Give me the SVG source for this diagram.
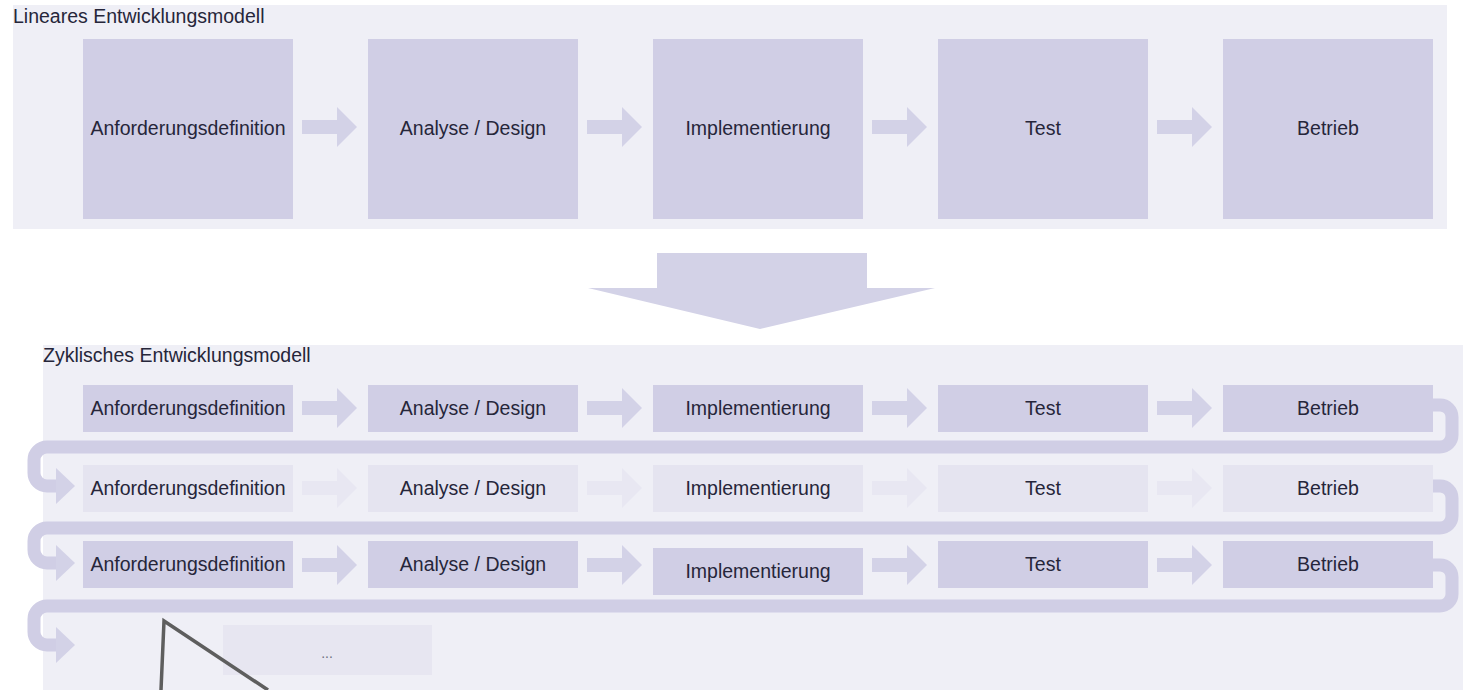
<svg xmlns="http://www.w3.org/2000/svg" width="1463" height="690" viewBox="0 0 1463 690">
<style>
text{font-family:"Liberation Sans",Arial,sans-serif;font-size:19.5px;fill:#26263a}
.t{text-anchor:middle;dominant-baseline:central}
.box{fill:#d0cee5}
.fbox{fill:#e5e4f0}
.arr{fill:#d3d2e7}
.farr{fill:#e8e7f2}
.loop{fill:none;stroke:#d0cee5;stroke-width:13}
.panel{fill:#efeff6}
</style>
<defs>
<polygon id="ar" points="0,-7 35,-7 35,-20 55,0 35,20 35,7 0,7"/>
</defs>
<rect width="1463" height="690" fill="#ffffff"/>
<rect class="panel" x="13" y="5" width="1434" height="224"/>
<rect class="panel" x="43" y="345" width="1420" height="345"/>
<text x="13" y="23">Lineares Entwicklungsmodell</text>
<text x="43" y="362">Zyklisches Entwicklungsmodell</text>

<g id="connectors">
<use href="#ar" class="arr" x="302" y="127"/>
<use href="#ar" class="arr" x="587" y="127"/>
<use href="#ar" class="arr" x="872" y="127"/>
<use href="#ar" class="arr" x="1157" y="127"/>
<polygon class="arr" points="657,253 867,253 867,288 935,288 760,329 588,288 657,288"/>
<use href="#ar" class="arr" x="302" y="408"/>
<use href="#ar" class="arr" x="587" y="408"/>
<use href="#ar" class="arr" x="872" y="408"/>
<use href="#ar" class="arr" x="1157" y="408"/>
<use href="#ar" class="farr" x="302" y="488"/>
<use href="#ar" class="farr" x="587" y="488"/>
<use href="#ar" class="farr" x="872" y="488"/>
<use href="#ar" class="farr" x="1157" y="488"/>
<use href="#ar" class="arr" x="302" y="565"/>
<use href="#ar" class="arr" x="587" y="565"/>
<use href="#ar" class="arr" x="872" y="565"/>
<use href="#ar" class="arr" x="1157" y="565"/>
<path class="loop" d="M1425,405 H1440 A12,12 0 0 1 1452,417 V435 A12,12 0 0 1 1440,447 H47 A13,13 0 0 0 34,460 V473 A13,13 0 0 0 47,486 H58"/>
<polygon class="arr" points="56,468 75,486 56,504"/>
<path class="loop" d="M1425,486 H1440 A12,12 0 0 1 1452,498 V516 A12,12 0 0 1 1440,528 H47 A13,13 0 0 0 34,541 V550 A13,13 0 0 0 47,563 H58"/>
<polygon class="arr" points="56,545 75,563 56,581"/>
<path class="loop" d="M1425,565 H1440 A12,12 0 0 1 1452,577 V594 A12,12 0 0 1 1440,606 H47 A13,13 0 0 0 34,619 V632 A13,13 0 0 0 47,645 H58"/>
<polygon class="arr" points="56,627 75,645 56,663"/>
</g>

<g id="lin-1"><rect class="box" x="83" y="39" width="210" height="180"/><text class="t" x="188" y="128">Anforderungsdefinition</text></g>
<g id="lin-2"><rect class="box" x="368" y="39" width="210" height="180"/><text class="t" x="473" y="128">Analyse / Design</text></g>
<g id="lin-3"><rect class="box" x="653" y="39" width="210" height="180"/><text class="t" x="758" y="128">Implementierung</text></g>
<g id="lin-4"><rect class="box" x="938" y="39" width="210" height="180"/><text class="t" x="1043" y="128">Test</text></g>
<g id="lin-5"><rect class="box" x="1223" y="39" width="210" height="180"/><text class="t" x="1328" y="128">Betrieb</text></g>

<g id="r1-1"><rect class="box" x="83" y="385" width="210" height="47"/><text class="t" x="188" y="408">Anforderungsdefinition</text></g>
<g id="r1-2"><rect class="box" x="368" y="385" width="210" height="47"/><text class="t" x="473" y="408">Analyse / Design</text></g>
<g id="r1-3"><rect class="box" x="653" y="385" width="210" height="47"/><text class="t" x="758" y="408">Implementierung</text></g>
<g id="r1-4"><rect class="box" x="938" y="385" width="210" height="47"/><text class="t" x="1043" y="408">Test</text></g>
<g id="r1-5"><rect class="box" x="1223" y="385" width="210" height="47"/><text class="t" x="1328" y="408">Betrieb</text></g>

<g id="r2-1"><rect class="fbox" x="83" y="465" width="210" height="47"/><text class="t" x="188" y="488">Anforderungsdefinition</text></g>
<g id="r2-2"><rect class="fbox" x="368" y="465" width="210" height="47"/><text class="t" x="473" y="488">Analyse / Design</text></g>
<g id="r2-3"><rect class="fbox" x="653" y="465" width="210" height="47"/><text class="t" x="758" y="488">Implementierung</text></g>
<g id="r2-4"><rect class="fbox" x="938" y="465" width="210" height="47"/><text class="t" x="1043" y="488">Test</text></g>
<g id="r2-5"><rect class="fbox" x="1223" y="465" width="210" height="47"/><text class="t" x="1328" y="488">Betrieb</text></g>

<g id="r3-1"><rect class="box" x="83" y="541" width="210" height="47"/><text class="t" x="188" y="564">Anforderungsdefinition</text></g>
<g id="r3-2"><rect class="box" x="368" y="541" width="210" height="47"/><text class="t" x="473" y="564">Analyse / Design</text></g>
<g id="r3-3"><rect class="box" x="653" y="548" width="210" height="47"/><text class="t" x="758" y="571">Implementierung</text></g>
<g id="r3-4"><rect class="box" x="938" y="541" width="210" height="47"/><text class="t" x="1043" y="564">Test</text></g>
<g id="r3-5"><rect class="box" x="1223" y="541" width="210" height="47"/><text class="t" x="1328" y="564">Betrieb</text></g>

<g id="r4-1"><rect fill="#e7e6f1" x="223" y="625" width="209" height="50"/><text class="t" x="327" y="653" style="font-size:14px;fill:#6e6e7e">...</text></g>

<polyline points="161,690 164,621 268,690" fill="none" stroke="#5e5e5e" stroke-width="3.5" stroke-linejoin="miter"/>
</svg>
